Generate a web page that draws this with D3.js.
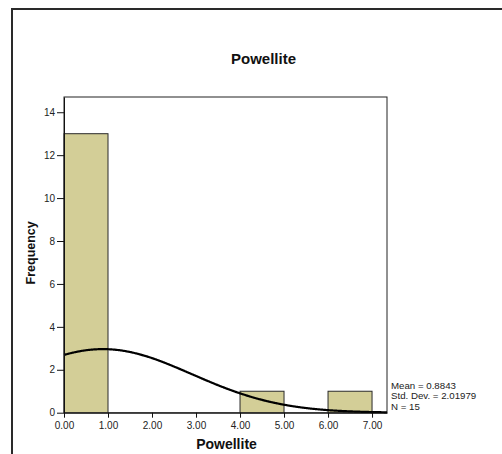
<!DOCTYPE html>
<html>
<head>
<meta charset="utf-8">
<script src="https://cdn.jsdelivr.net/npm/d3@7"></script>
<style>
  html, body { margin: 0; padding: 0; background: #fff; }
  svg { display: block; font-family: "Liberation Sans", Arial, sans-serif; }
</style>
</head>
<body>
<svg id="chart" width="502" height="454"></svg>
<script>
// Histogram bins: lower edge, upper edge, frequency
const binStarts = [0, 1, 2, 3, 4, 5, 6];
const binEnds   = [1, 2, 3, 4, 5, 6, 7];
const counts    = [13, 0, 0, 0, 1, 0, 1];

const yTicks = [0, 2, 4, 6, 8, 10, 12, 14];
const xTicks = [0, 1, 2, 3, 4, 5, 6, 7];

// Summary statistics of the sample
const statMean = 0.8843;
const statSd = 2.01979;
const statN = 15;
const statLines = ["Mean = 0.8843", "Std. Dev. = 2.01979", "N = 15"];

const svg = d3.select("#chart");

const plot = { left: 64, right: 387, top: 97, bottom: 412.7 };

const x = d3.scaleLinear().domain([0, 7.34]).range([plot.left, plot.right]);
const y = d3.scaleLinear().domain([0, 14.71]).range([plot.bottom, plot.top]);

// Outer chart frame (left and top edges)
svg.append("path")
  .attr("d", "M12,460 L12,9 L510,9")
  .attr("fill", "none")
  .attr("stroke", "#2a2a2a")
  .attr("stroke-width", 2);

// Title
svg.append("text")
  .attr("x", 263.5).attr("y", 64)
  .attr("text-anchor", "middle")
  .attr("font-size", 15).attr("font-weight", "bold")
  .attr("fill", "#111")
  .text("Powellite");

// Plot frame
svg.append("rect")
  .attr("x", plot.left).attr("y", plot.top)
  .attr("width", plot.right - plot.left)
  .attr("height", plot.bottom - plot.top)
  .attr("fill", "#fff")
  .attr("stroke", "#222").attr("stroke-width", 1);

// Bars
const bins = binStarts.map((s, i) => ({ x0: s, x1: binEnds[i], n: counts[i] })).filter(d => d.n > 0);
svg.append("g").selectAll("rect")
  .data(bins)
  .join("rect")
  .attr("x", d => x(d.x0))
  .attr("y", d => y(d.n))
  .attr("width", d => x(d.x1) - x(d.x0))
  .attr("height", d => y(0) - y(d.n))
  .attr("fill", "#d3ce97")
  .attr("stroke", "#2a2a2a")
  .attr("stroke-width", 1);

// Fitted normal curve scaled to counts (bin width 1)
const binWidth = 1;
const curvePts = d3.range(0, 7.34 + 1e-9, 0.02).map(v => {
  const z = (v - statMean) / statSd;
  return [v, statN * binWidth * Math.exp(-0.5 * z * z) / (statSd * Math.sqrt(2 * Math.PI))];
});
svg.append("path")
  .datum(curvePts)
  .attr("d", d3.line().x(d => x(d[0])).y(d => y(d[1])).curve(d3.curveBasis))
  .attr("fill", "none")
  .attr("stroke", "#000")
  .attr("stroke-width", 2.2);

// Axes
const yAxis = svg.append("g")
  .attr("transform", `translate(${plot.left},0)`)
  .call(d3.axisLeft(y).tickValues(yTicks).tickSize(7).tickSizeOuter(0).tickPadding(2).tickFormat(d3.format("d")));
const xAxis = svg.append("g")
  .attr("transform", `translate(0,${plot.bottom})`)
  .call(d3.axisBottom(x).tickValues(xTicks).tickSize(5).tickSizeOuter(0).tickPadding(4).tickFormat(d3.format(".2f")));

[yAxis, xAxis].forEach(g => {
  g.select(".domain").attr("stroke", "#111");
  g.selectAll(".tick line").attr("stroke", "#111");
  g.selectAll(".tick text")
    .attr("font-family", "'Liberation Sans', Arial, sans-serif")
    .attr("font-size", 10)
    .attr("fill", "#222");
});

// Axis titles
svg.append("text")
  .attr("x", 226.5).attr("y", 449)
  .attr("text-anchor", "middle")
  .attr("font-size", 14).attr("font-weight", "bold")
  .attr("fill", "#111")
  .text("Powellite");

svg.append("text")
  .attr("transform", `translate(35,${(plot.top + plot.bottom) / 2 - 2}) rotate(-90)`)
  .attr("text-anchor", "middle")
  .attr("font-size", 12.5).attr("font-weight", "bold")
  .attr("fill", "#111")
  .text("Frequency");

// Statistics box text
svg.append("g").selectAll("text")
  .data(statLines)
  .join("text")
  .attr("x", 391)
  .attr("y", (d, i) => 389 + i * 10.3)
  .attr("font-size", 9.7)
  .attr("fill", "#222")
  .text(d => d);
</script>
</body>
</html>
